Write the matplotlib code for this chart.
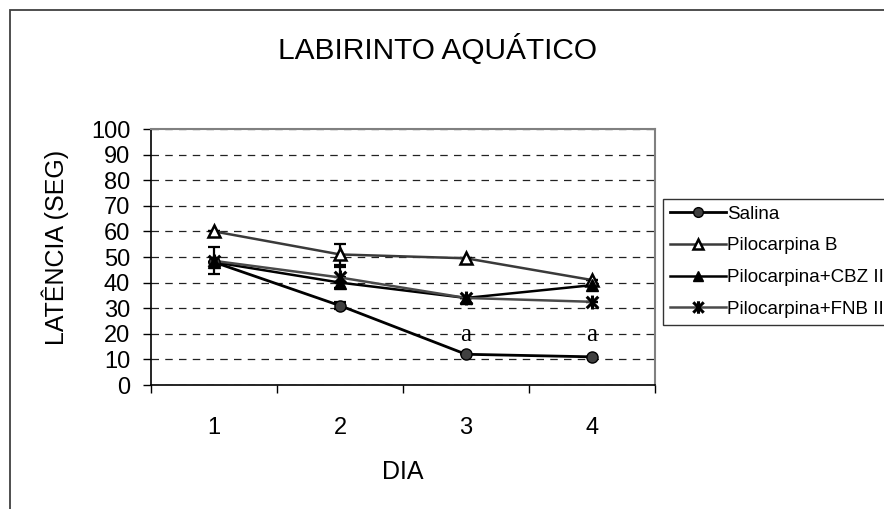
import matplotlib
matplotlib.use('Agg')
import matplotlib.pyplot as plt
from matplotlib.path import Path
from matplotlib.patches import Rectangle
from matplotlib.lines import Line2D
import numpy as np

plt.rcParams['font.family'] = ['Liberation Sans', 'DejaVu Sans']

# ── Data ──────────────────────────────────────────────────────────────────
dias = ['1', '2', '3', '4']

salina = [48, 31, 12, 11]
salina_err = [0, 1.5, 0, 0]

pilo_b = [60, 51, 49.5, 41]
pilo_b_err = [0, 4, 0, 0]

pilo_cbz = [48, 40, 34, 39]
pilo_cbz_err = [0, 2, 0, 0]

pilo_fnb = [48.5, 42, 34, 32.5]
pilo_fnb_err = [5.3, 4, 0, 0]

sig_label = 'a'
sig_days = [2, 3]          # index into dias
sig_height = 19.5

y_ticks = [0, 10, 20, 30, 40, 50, 60, 70, 80, 90, 100]

# asterisk marker used by the spreadsheet (X plus vertical bar)
star_path = Path(
    [(-1, -1), (1, 1), (-1, 1), (1, -1), (0, -1.2), (0, 1.2)],
    [Path.MOVETO, Path.LINETO, Path.MOVETO, Path.LINETO, Path.MOVETO, Path.LINETO],
)

W, H = 884, 509
fig = plt.figure(figsize=(W / 100, H / 100), dpi=100)
fig.patch.set_facecolor('white')

# outer chart frame (cut off on right and bottom)
fig.patches.append(Rectangle((10 / W, -0.1), 1.2, 1 - 10 / H + 0.1,
                             transform=fig.transFigure, fill=False,
                             edgecolor='#404040', linewidth=1.3))

ax = fig.add_axes([151 / W, 1 - 385 / H, (655 - 151) / W, (385 - 129) / H])
x = np.arange(len(dias))

series = [
    ('Salina', salina, salina_err,
     dict(color='black', lw=2.0, marker='o', ms=8, mfc='#404040', mec='black', mew=1.0)),
    ('Pilocarpina B', pilo_b, pilo_b_err,
     dict(color='#3a3a3a', lw=1.8, marker='^', ms=8, mfc='white', mec='black', mew=1.8)),
    ('Pilocarpina+CBZ II', pilo_cbz, pilo_cbz_err,
     dict(color='black', lw=1.8, marker='^', ms=8, mfc='black', mec='black', mew=1.0)),
    ('Pilocarpina+FNB II', pilo_fnb, pilo_fnb_err,
     dict(color='#4a4a4a', lw=1.8, marker=star_path, ms=10, mfc='none', mec='black', mew=2.2)),
]

handles = []
for name, vals, err, st in series:
    ax.errorbar(x, vals, yerr=err, fmt='none', ecolor='black', elinewidth=1.6,
                capsize=4.5, capthick=1.6, zorder=3)
    ax.plot(x, vals, color=st['color'], lw=st['lw'], zorder=4)
    ax.plot(x, vals, ls='none', marker=st['marker'], ms=st['ms'], mfc=st['mfc'],
            mec=st['mec'], mew=st['mew'], zorder=5)
    handles.append(Line2D([0], [0], color=st['color'], lw=st['lw'], marker=st['marker'],
                          ms=st['ms'] - 1, mfc=st['mfc'], mec=st['mec'], mew=st['mew'],
                          label=name))

for i in sig_days:
    ax.text(x[i], sig_height, sig_label, ha='center', va='center',
            fontsize=18, family='Liberation Serif', zorder=6)

ax.set_xlim(-0.5, len(dias) - 0.5)
ax.set_ylim(0, 100)
ax.set_yticks(y_ticks)
ax.yaxis.grid(True, linestyle=(0, (6, 5)), color='#222222', linewidth=0.9)
ax.set_axisbelow(True)

ax.set_xticks(x)
ax.set_xticklabels(dias)
ax.set_xticks(np.arange(len(dias) + 1) - 0.5, minor=True)
ax.tick_params(axis='x', which='major', length=0, pad=23, labelsize=17)
ax.tick_params(axis='x', which='minor', length=6, width=1, direction='out')
ax.tick_params(axis='y', length=6, width=1, direction='out', pad=9, labelsize=17)

for side in ['top', 'right']:
    ax.spines[side].set_color('#808080')
    ax.spines[side].set_linewidth(1.5)
for side in ['left', 'bottom']:
    ax.spines[side].set_color('black')
    ax.spines[side].set_linewidth(1.2)

fig.text(437 / W, 1 - 50 / H, 'LABIRINTO AQUÁTICO', ha='center', va='center', fontsize=21.5)
fig.text(403 / W, 1 - 472 / H, 'DIA', ha='center', va='center', fontsize=18)
fig.text(55 / W, 1 - 247 / H, 'LATÊNCIA (SEG)', ha='center', va='center',
         rotation=90, fontsize=18)

leg = fig.legend(handles=handles, loc='upper left',
                 bbox_to_anchor=(663 / W, 1 - 199 / H),
                 fontsize=13.5, frameon=True, fancybox=False,
                 edgecolor='black', handlelength=3.0, handletextpad=0.05,
                 labelspacing=0.78, borderpad=0.35, borderaxespad=0)
leg.get_frame().set_linewidth(1.0)

fig.savefig('out.png', dpi=100, facecolor='white')
